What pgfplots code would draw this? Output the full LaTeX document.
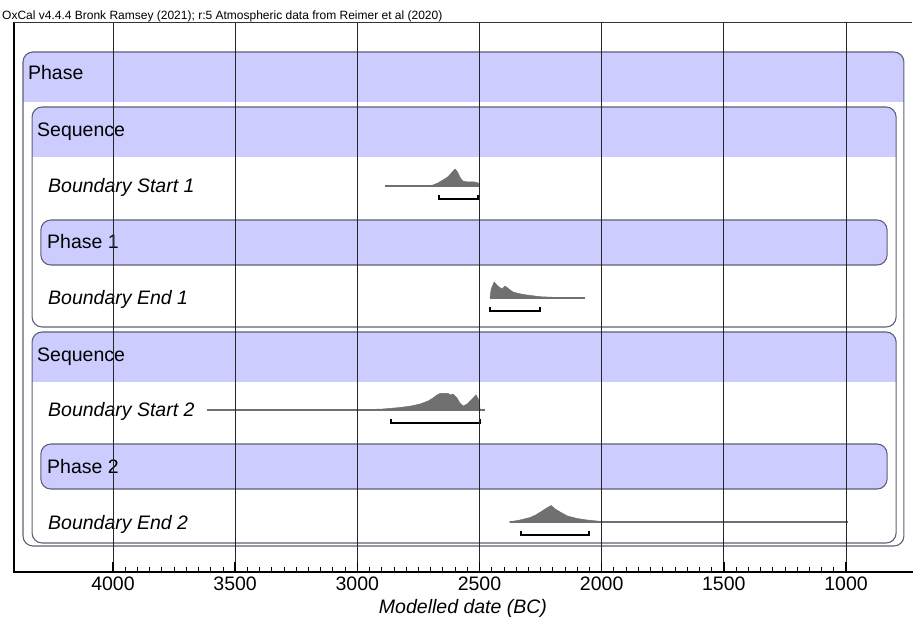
\documentclass[border=0pt]{standalone}
\usepackage{pgfplots}
\pgfplotsset{compat=1.18}
\usepackage{fontspec}
\setmainfont{Liberation Sans}
\definecolor{lav}{RGB}{204,204,255}
\definecolor{boxc}{RGB}{95,95,115}
\definecolor{dist}{RGB}{112,112,112}
\newcommand{\bigf}{\fontsize{19.5}{22}\selectfont}
\begin{document}
\begin{tikzpicture}
\path[use as bounding box] (0,0) rectangle (914pt,-620pt);
\node[anchor=base west, font=\fontsize{12}{14}\selectfont, inner sep=0pt] at (2pt,-20pt) {OxCal v4.4.4 Bronk Ramsey (2021); r:5 Atmospheric data from Reimer et al (2020)};
\begin{axis}[
  at={(14pt,-23pt)}, anchor=north west,
  scale only axis, width=898pt, height=549pt,
  x dir=reverse,
  xmin=730, xmax=4405, ymin=-572, ymax=-23,
  clip=false,
  axis line style={draw=none},
  ytick=\empty,
  xtick={1000,1500,2000,2500,3000,3500,4000},
  minor x tick num=9,
  xtick pos=left,
  tick align=inside,
  major tick length=10pt, minor tick length=5pt,
  major tick style={black, line width=1.4pt},
  minor tick style={black, line width=0.8pt},
  xmajorgrids, major grid style={black!85, line width=0.8pt},
  axis on top,
  /pgf/number format/assume math mode=true,
  /pgf/number format/1000 sep={},
  xticklabel style={anchor=base, yshift=-18pt, font=\bigf},
  xlabel={\itshape Modelled date (BC)},
  xlabel style={at={(axis description cs:0.5,0)}, anchor=base, yshift=-41pt, font=\bigf},
]
% frame
\draw[line width=2.5pt, line cap=rect] (axis description cs:0,1) -- (axis description cs:0,0) -- (axis description cs:1,0);
\draw[line width=1pt, black!80] (axis description cs:0,1) -- (axis description cs:1,1);

% outer Phase box
\fill[lav, rounded corners=10pt] (axis cs:4368,-102) -- (axis cs:4368,-52) -- (axis cs:763,-52) -- (axis cs:763,-102);
\draw[boxc, line width=1.1pt, rounded corners=10pt] (axis cs:4368,-52) rectangle (axis cs:763,-546);
% Sequence 1
\fill[lav, rounded corners=10pt] (axis cs:4331,-157) -- (axis cs:4331,-107) -- (axis cs:795,-107) -- (axis cs:795,-157);
\draw[boxc, line width=1.1pt, rounded corners=10pt] (axis cs:4331,-107) rectangle (axis cs:795,-327);
% Phase 1
\draw[boxc, fill=lav, line width=1.1pt, rounded corners=10pt] (axis cs:4295,-220) rectangle (axis cs:832,-265);
% Sequence 2
\fill[lav, rounded corners=10pt] (axis cs:4331,-382) -- (axis cs:4331,-332) -- (axis cs:795,-332) -- (axis cs:795,-382);
\draw[boxc, line width=1.1pt, rounded corners=10pt] (axis cs:4331,-332) rectangle (axis cs:795,-543);
% Phase 2
\draw[boxc, fill=lav, line width=1.1pt, rounded corners=10pt] (axis cs:4295,-444) rectangle (axis cs:832,-489);

% labels
\node[anchor=base west, inner sep=0pt, font=\bigf] at (axis cs:4348,-80) {Phase};
\node[anchor=base west, inner sep=0pt, font=\bigf] at (axis cs:4311,-137) {Sequence};
\node[anchor=base west, inner sep=0pt, font=\bigf\itshape] at (axis cs:4266,-193) {Boundary Start 1};
\node[anchor=base west, inner sep=0pt, font=\bigf] at (axis cs:4270,-249) {Phase 1};
\node[anchor=base west, inner sep=0pt, font=\bigf\itshape] at (axis cs:4266,-305) {Boundary End 1};
\node[anchor=base west, inner sep=0pt, font=\bigf] at (axis cs:4311,-362) {Sequence};
\node[anchor=base west, inner sep=0pt, font=\bigf\itshape] at (axis cs:4266,-417) {Boundary Start 2};
\node[anchor=base west, inner sep=0pt, font=\bigf] at (axis cs:4270,-473) {Phase 2};
\node[anchor=base west, inner sep=0pt, font=\bigf\itshape] at (axis cs:4266,-529) {Boundary End 2};

% Boundary Start 1
\addplot[dist, line width=1.2pt] coordinates {(2887,-186) (2498,-186)};
\addplot[fill=dist, draw=dist, line width=0.5pt] table[x=d, y expr={-186+\thisrow{h}}] {
d h
2887 0
2720 0
2690 1
2670 3
2650 6
2630 9
2615 13
2600 17
2590 14
2578 8
2568 5
2550 4
2520 4
2505 3
2500 0
};
\addplot[black, line width=1.6pt] coordinates {(2666,-195) (2666,-199) (2507,-199) (2507,-195)};

% Boundary End 1
\addplot[dist, line width=1.2pt] coordinates {(2457,-298) (2068,-298)};
\addplot[fill=dist, draw=dist, line width=0.5pt] table[x=d, y expr={-298+\thisrow{h}}] {
d h
2457 0
2452 9
2440 16
2425 12
2408 9
2395 12
2380 9
2363 6
2340 4.5
2320 3.5
2290 2.5
2252 1.3
2200 0.7
2150 0.3
2068 0
};
\addplot[black, line width=1.6pt] coordinates {(2457,-307) (2457,-311) (2252,-311) (2252,-307)};

% Boundary Start 2
\addplot[dist, line width=1.2pt] coordinates {(3615,-410) (2477,-410)};
\addplot[fill=dist, draw=dist, line width=0.5pt] table[x=d, y expr={-410+\thisrow{h}}] {
d h
3050 0
2950 0.5
2895 1
2825 2.5
2780 4
2743 6
2710 9
2690 12
2674 15
2662 16.5
2645 16.5
2629 16.5
2617 15
2608 16
2592 12
2580 7
2567 4
2550 6
2530 11
2514 15
2505 11
2500 5
2497 0
};
\addplot[black, line width=1.6pt] coordinates {(2862,-419) (2862,-423) (2498,-423) (2498,-419)};

% Boundary End 2
\addplot[dist, line width=1.2pt] coordinates {(2375,-522) (992,-522)};
\addplot[fill=dist, draw=dist, line width=0.5pt] table[x=d, y expr={-522+\thisrow{h}}] {
d h
2380 0
2334 2
2293 4.5
2270 7
2250 10
2225 14
2207 16.5
2190 13
2170 10
2140 6
2101 3.5
2060 2
2007 0.7
1950 0.2
1900 0
};
\addplot[black, line width=1.6pt] coordinates {(2330,-531) (2330,-535) (2052,-535) (2052,-531)};
\end{axis}
\end{tikzpicture}
\end{document}
